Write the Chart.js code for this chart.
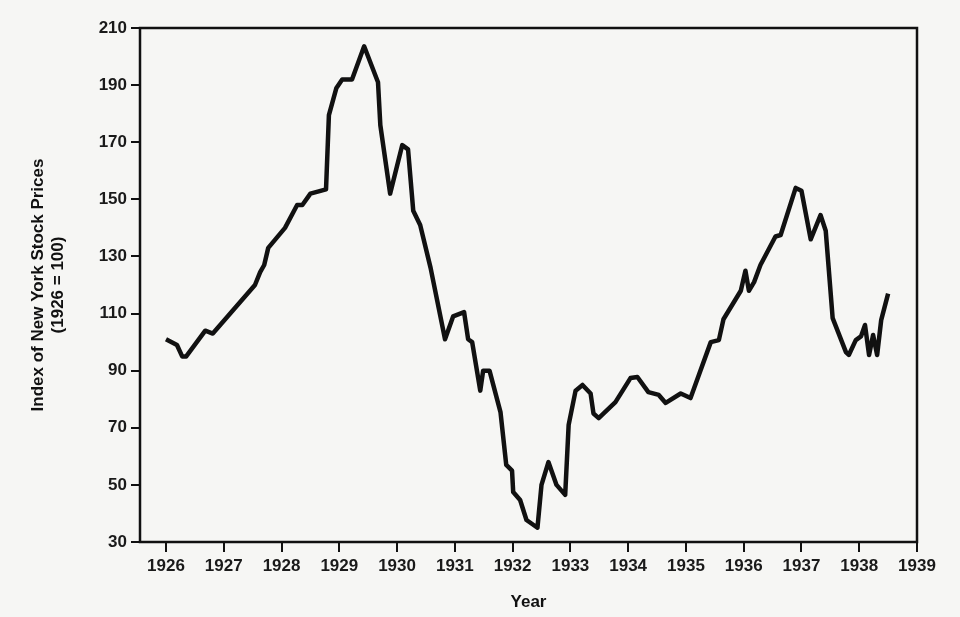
<!DOCTYPE html>
<html><head><meta charset="utf-8">
<script src="https://cdn.jsdelivr.net/npm/chart.js@4"></script>
<style>html,body{margin:0;padding:0;background:#f6f6f4;}#w{width:960px;height:617px;}</style>
</head><body><div id="w"><canvas id="c"></canvas></div>
<script>
const years=[1926.0,1926.19,1926.28,1926.35,1926.68,1926.81,1927.54,1927.63,1927.7,1927.77,1928.06,1928.27,1928.36,1928.5,1928.77,1928.82,1928.95,1929.05,1929.22,1929.43,1929.67,1929.71,1929.88,1930.09,1930.19,1930.28,1930.4,1930.58,1930.83,1930.97,1931.16,1931.23,1931.3,1931.44,1931.49,1931.6,1931.79,1931.89,1931.99,1932.01,1932.13,1932.24,1932.43,1932.5,1932.62,1932.76,1932.91,1932.97,1933.09,1933.21,1933.35,1933.4,1933.49,1933.78,1934.04,1934.16,1934.35,1934.53,1934.65,1934.91,1935.08,1935.43,1935.57,1935.65,1935.95,1936.03,1936.09,1936.18,1936.29,1936.55,1936.64,1936.9,1937.0,1937.16,1937.33,1937.42,1937.54,1937.77,1937.82,1937.94,1938.03,1938.1,1938.17,1938.24,1938.31,1938.38,1938.5];
const values=[101,99,95,95,104,103,120,124.5,127,133,140,148,148,152,153.5,179.5,189,192,192,203.6,191,176,152,169,167.5,146,141,126,101,109,110.5,101,100,83,90,90,75.5,57,55,47.5,44.7,37.7,35,50,58,50,46.5,71,83,85,82,75,73.4,79,87.4,87.8,82.5,81.5,78.7,82,80.4,100,100.7,108,118,125,118,121,127,137,137.5,154,153,136,144.5,139,108.4,96.5,95.5,100.7,102,106,95.5,102.5,95.5,107.7,117];
const xTicks=[1926,1927,1928,1929,1930,1931,1932,1933,1934,1935,1936,1937,1938,1939];
const yTicks=[30,50,70,90,110,130,150,170,190,210];
const font={family:'Liberation Sans, Arial, sans-serif',size:17,weight:'bold'};
const boxPlugin={id:'box',afterDraw(ch){const a=ch.chartArea,c=ch.ctx;c.save();c.strokeStyle='#111';c.lineWidth=2.5;c.strokeRect(a.left,a.top,a.right-a.left,a.bottom-a.top);c.restore();}};
new Chart(document.getElementById('c'),{type:'line',
data:{datasets:[{data:years.map((y,i)=>({x:y,y:values[i]})),borderColor:'#111',borderWidth:4.5,pointRadius:0,tension:0,borderJoinStyle:'round'}]},
plugins:[boxPlugin],
options:{responsive:true,maintainAspectRatio:false,animation:false,
layout:{padding:{top:28,right:43,left:24,bottom:0}},
plugins:{legend:{display:false},tooltip:{enabled:false}},
scales:{
x:{type:'linear',min:1925.55,max:1939,afterBuildTicks:s=>{s.ticks=xTicks.map(v=>({value:v}));},afterFit:s=>{s.height=75;},
border:{display:false},grid:{drawOnChartArea:false,color:'#111',lineWidth:2,tickLength:10},
ticks:{color:'#1a1a1a',font:font,padding:4,maxRotation:0,autoSkip:false,callback:v=>String(v)},
title:{display:true,text:'Year',color:'#111',font:{family:font.family,size:17,weight:'bold'},padding:{top:2}}},
y:{min:30,max:210,afterBuildTicks:s=>{s.ticks=yTicks.map(v=>({value:v}));},afterFit:s=>{s.width=116;},
border:{display:false},grid:{drawOnChartArea:false,color:'#111',lineWidth:2,tickLength:9},
ticks:{color:'#1a1a1a',font:font,padding:4},
title:{display:true,text:['Index of New York Stock Prices','(1926 = 100)'],color:'#111',font:{family:font.family,size:17,weight:'bold'},padding:{bottom:4}}}
}}});
</script></body></html>
